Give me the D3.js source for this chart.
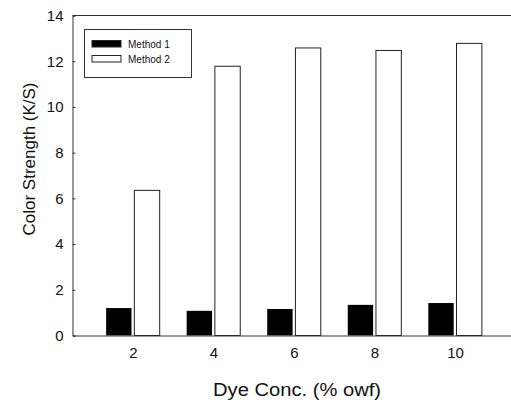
<!DOCTYPE html>
<html>
<head>
<meta charset="utf-8">
<script src="https://cdn.jsdelivr.net/npm/d3@7"></script>
<style>
  html, body { margin: 0; padding: 0; background: #fff; }
  svg { display: block; font-family: Arial, "Liberation Sans", sans-serif; }
</style>
</head>
<body>
<svg id="chart" width="511" height="403"></svg>
<script>
// Dye concentration (% owf) and colour strength (K/S) for the two dyeing methods
const concentrations = [2, 4, 6, 8, 10];
const method1 = [1.20, 1.08, 1.16, 1.34, 1.42];
const method2 = [6.35, 11.78, 12.58, 12.47, 12.78];
const seriesNames = ["Method 1", "Method 2"];
const yTicks = [0, 2, 4, 6, 8, 10, 12, 14];
const xTicks = [2, 4, 6, 8, 10];

const svg = d3.select("#chart");
const W = 511, H = 403;
const plot = { left: 72.5, top: 15.5, right: 515.5, bottom: 335.5 };

const x = d3.scaleLinear().domain([0.5, 11.5]).range([plot.left, plot.right]);
const y = d3.scaleLinear().domain([0, 14]).range([plot.bottom, plot.top]);

const barW = 0.63;   // bar width in x units
const halfGap = 0.035;

const axisColor = "#333";

// bars
const rows = concentrations.map((c, i) => ({ c, m1: method1[i], m2: method2[i] }));

svg.append("g").selectAll("rect")
  .data(rows).join("rect")
  .attr("x", d => x(d.c - halfGap - barW))
  .attr("width", d => x(d.c - halfGap) - x(d.c - halfGap - barW))
  .attr("y", d => y(d.m1))
  .attr("height", d => y(0) - y(d.m1))
  .attr("fill", "#000");

svg.append("g").selectAll("rect")
  .data(rows).join("rect")
  .attr("x", d => x(d.c + halfGap))
  .attr("width", d => x(d.c + halfGap + barW) - x(d.c + halfGap))
  .attr("y", d => y(d.m2))
  .attr("height", d => y(0) - y(d.m2))
  .attr("fill", "#fff")
  .attr("stroke", "#222")
  .attr("stroke-width", 1);

// frame: top edge
svg.append("line")
  .attr("x1", plot.left).attr("x2", W)
  .attr("y1", plot.top).attr("y2", plot.top)
  .attr("stroke", axisColor).attr("stroke-width", 1);

// y axis with inward ticks
const yAxis = d3.axisLeft(y).tickValues(yTicks).tickSize(-3).tickPadding(9);
const gy = svg.append("g").attr("transform", `translate(${plot.left},0)`).call(yAxis);
gy.select(".domain").attr("stroke", axisColor);
gy.selectAll(".tick line").attr("stroke", axisColor);
gy.selectAll("text")
  .attr("font-size", 15)
  .attr("font-family", "Arial, 'Liberation Sans', sans-serif")
  .attr("fill", "#111");

// x axis (no tick marks)
const xAxis = d3.axisBottom(x).tickValues(xTicks).tickSize(0).tickPadding(12);
const gx = svg.append("g").attr("transform", `translate(0,${plot.bottom})`).call(xAxis);
gx.select(".domain").attr("stroke", axisColor);
gx.selectAll("text")
  .attr("font-size", 15)
  .attr("font-family", "Arial, 'Liberation Sans', sans-serif")
  .attr("fill", "#111");

// axis titles
svg.append("text")
  .attr("transform", `translate(34.5,159) rotate(-90)`)
  .attr("text-anchor", "middle")
  .attr("font-size", 17)
  .attr("fill", "#111")
  .text("Color Strength (K/S)");

svg.append("text")
  .attr("x", 297)
  .attr("y", 396)
  .attr("text-anchor", "middle")
  .attr("font-size", 17.5)
  .attr("textLength", 168)
  .attr("lengthAdjust", "spacingAndGlyphs")
  .attr("fill", "#111")
  .text("Dye Conc. (% owf)");

// legend
const legend = svg.append("g");
legend.append("rect")
  .attr("x", 84.5).attr("y", 29.5)
  .attr("width", 107).attr("height", 48)
  .attr("fill", "#fff").attr("stroke", axisColor).attr("stroke-width", 1);

const legendItems = [
  { name: seriesNames[0], fill: "#000" },
  { name: seriesNames[1], fill: "#fff" }
];
const li = legend.selectAll("g.item").data(legendItems).join("g")
  .attr("class", "item")
  .attr("transform", (d, i) => `translate(92,${40.5 + i * 15})`);
li.append("rect")
  .attr("width", 29).attr("height", 6.5)
  .attr("fill", d => d.fill)
  .attr("stroke", "#222").attr("stroke-width", 1);
li.append("text")
  .attr("x", 36).attr("y", 7)
  .attr("font-size", 10)
  .attr("fill", "#111")
  .text(d => d.name);
</script>
</body>
</html>
